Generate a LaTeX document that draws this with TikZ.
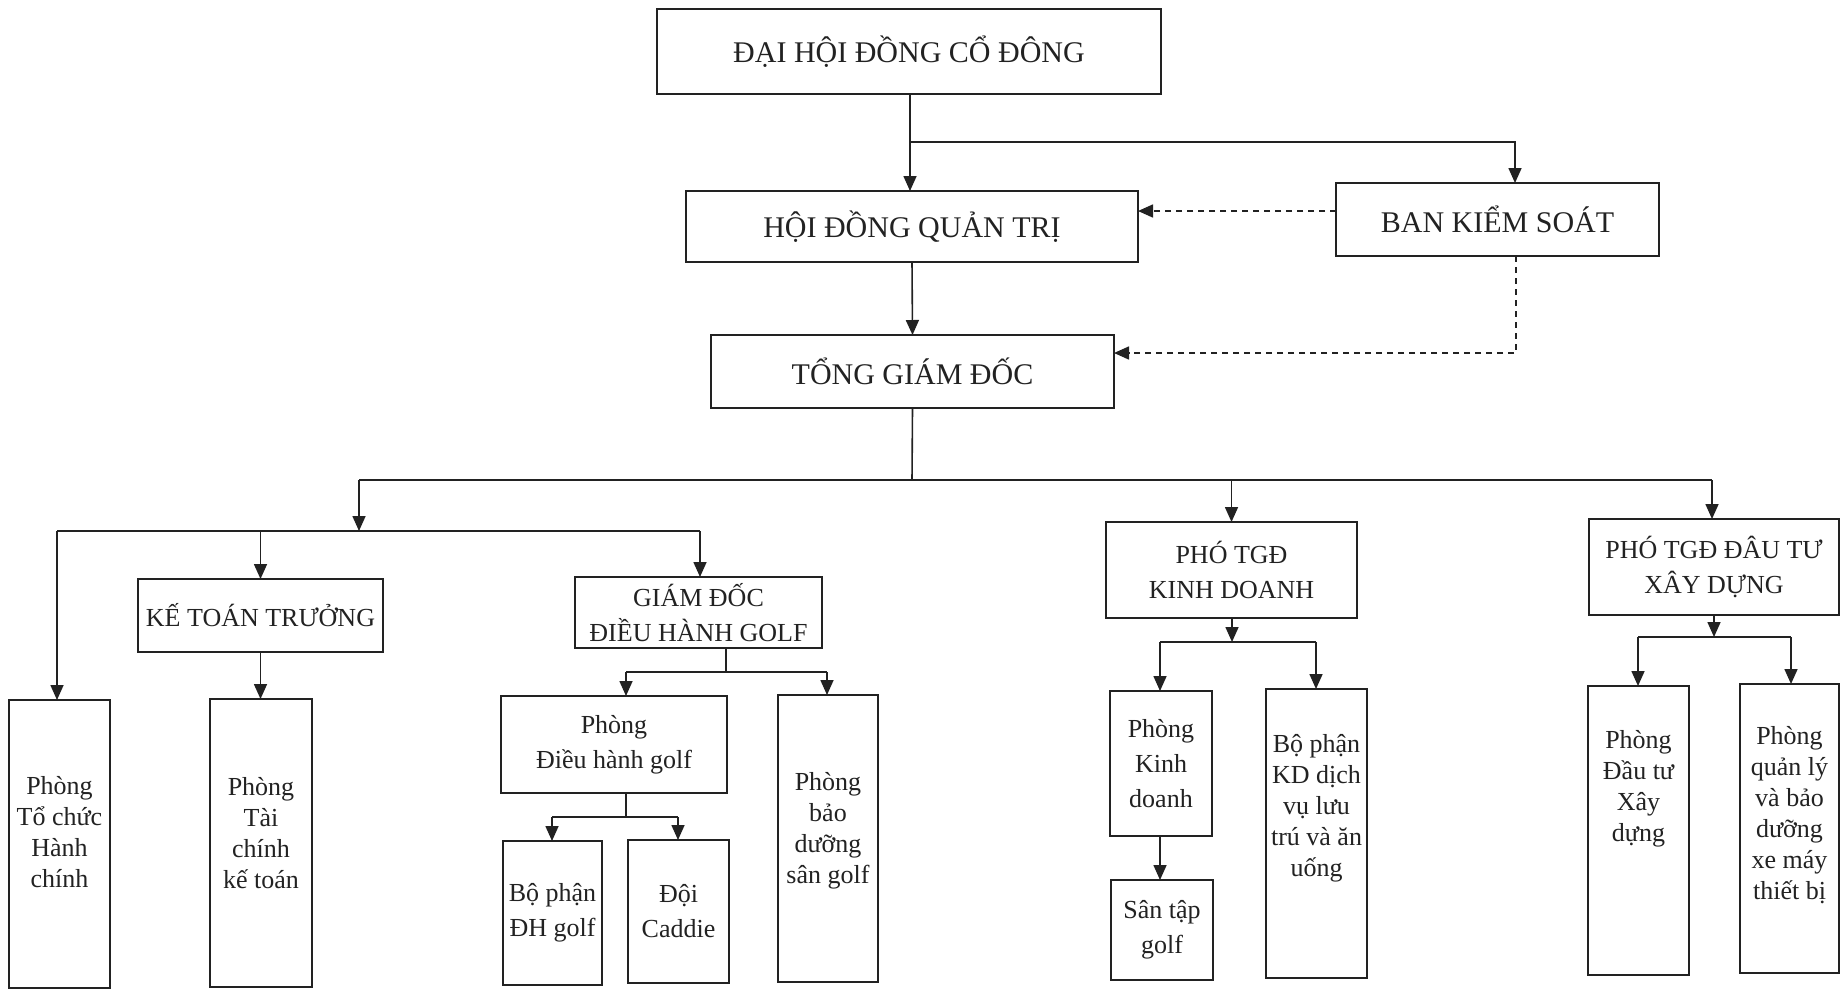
\documentclass[tikz,border=0pt]{standalone}
\usepackage{fontspec}
\setmainfont{Liberation Serif}
\usetikzlibrary{arrows.meta}
\definecolor{ink}{HTML}{222222}
\begin{document}
\begin{tikzpicture}[x=1pt,y=-1pt,
  every node/.style={text=ink},
  box/.style={draw=ink, line width=1.8pt, inner sep=0pt, outer sep=0pt, align=center},
  big/.style={font=\fontsize{30}{36}\selectfont},
  mid/.style={font=\fontsize{26}{35}\selectfont},
  small/.style={font=\fontsize{26}{31}\selectfont},
  txt/.style={align=center, inner sep=0pt},
  ln/.style={draw=ink, line width=1.6pt},
  arr/.style={ln, -{Triangle[length=15pt,width=13pt]}},
  darr/.style={draw=ink, line width=1.6pt, dash pattern=on 6pt off 5pt, -{Triangle[length=15pt,width=13pt]}},
]
\fill[white] (0,0) rectangle (1847,989);
\useasboundingbox (0,0) rectangle (1847,989);

% top levels
\node[box,big,minimum width=504pt,minimum height=85pt] (dhdcd) at (909,51.5) {ĐẠI HỘI ĐỒNG CỔ ĐÔNG};
\node[box,big,minimum width=452pt,minimum height=71pt] (hdqt) at (912,226.5) {HỘI ĐỒNG QUẢN TRỊ};
\node[box,big,minimum width=323pt,minimum height=73pt] (bks) at (1497.5,219.5) {BAN KIỂM SOÁT};
\node[box,big,minimum width=403pt,minimum height=73pt] (tgd) at (912.5,371.5) {TỔNG GIÁM ĐỐC};

% second level
\node[box,mid,minimum width=245pt,minimum height=73pt] (ktt) at (260.5,615.5) {KẾ TOÁN TRƯỞNG};
\node[box,mid,minimum width=247pt,minimum height=71pt] (gdg) at (698.5,612.5) {GIÁM ĐỐC\\ĐIỀU HÀNH GOLF};
\node[box,mid,minimum width=251pt,minimum height=96pt] (ptkd) at (1231.5,570) {PHÓ TGĐ\\KINH DOANH};
\node[box,mid,minimum width=250pt,minimum height=96pt] (ptxd) at (1714,567) {PHÓ TGĐ ĐÂU TƯ\\XÂY DỰNG};

% departments
\node[box,minimum width=101pt,minimum height=288pt] (ptc) at (59.5,844) {};
\node[txt,small] (ptct) at (59.5,832) {Phòng\\Tổ chức\\Hành\\chính};
\node[box,minimum width=102pt,minimum height=288pt] (ptckt) at (261,843) {};
\node[txt,small] (ptcktt) at (261,833) {Phòng\\Tài\\chính\\kế toán};
\node[box,mid,minimum width=226pt,minimum height=97pt] (pdhg) at (614,744.5) {Phòng\\Điều hành golf};
\node[box,mid,minimum width=99pt,minimum height=144pt] (bpdh) at (552.5,913) {Bộ phận\\ĐH golf};
\node[box,mid,minimum width=101pt,minimum height=143pt] (caddie) at (678.5,911.5) {Đội\\Caddie};
\node[box,minimum width=100pt,minimum height=287pt] (pbd) at (828,838.5) {};
\node[txt,small] (pbdt) at (828,831) {Phòng\\bảo\\dưỡng\\sân golf};
\node[box,mid,minimum width=102pt,minimum height=145pt] (pkd) at (1161,763.5) {Phòng\\Kinh\\doanh};
\node[box,mid,minimum width=102pt,minimum height=100pt] (santap) at (1162,930) {Sân tập\\golf};
\node[box,minimum width=101pt,minimum height=289pt] (bpkd) at (1316.5,833.5) {};
\node[txt,small] (bpkdt) at (1316.5,808) {Bộ phận\\KD dịch\\vụ lưu\\trú và ăn\\uống};
\node[box,minimum width=101pt,minimum height=289pt] (pdt) at (1638.5,830.5) {};
\node[txt,small] (pdtt) at (1638.5,789) {Phòng\\Đầu tư\\Xây\\dựng};
\node[box,minimum width=99pt,minimum height=289pt] (pql) at (1789.5,828.5) {};
\node[txt,small] (pqlt) at (1789.5,815) {Phòng\\quản lý\\và bảo\\dưỡng\\xe máy\\thiết bị};

% helper coordinates
\coordinate (j1) at (910,142);
\coordinate (bkin) at (1515,142);
\coordinate (dq) at (1400,211);
\coordinate (dd) at (1516,353);
\coordinate (bus) at (912,480);
\coordinate (busL) at (359,480);
\coordinate (busR) at (1712,480);
\coordinate (sbL) at (57,531);
\coordinate (sbR) at (700,531);
\coordinate (g1) at (726,672);
\coordinate (g1L) at (626,672);
\coordinate (g1R) at (827,672);
\coordinate (g2) at (626,817);
\coordinate (g2L) at (552,817);
\coordinate (g2R) at (678,817);
\coordinate (k1) at (1232,642);
\coordinate (k1L) at (1160,642);
\coordinate (k1R) at (1316,642);
\coordinate (x1) at (1714,637);
\coordinate (x1L) at (1638,637);
\coordinate (x1R) at (1791,637);

% connectors top
\draw[arr] (j1 |- dhdcd.south) -- (j1 |- hdqt.north);
\draw[arr] (j1) -- (bkin) -- (bkin |- bks.north);
\draw[arr] (hdqt.south) -- (tgd.north);
\draw[darr] (bks.west |- dq) -- (hdqt.east |- dq);
\draw[darr] (dd |- bks.south) -- (dd) -- (tgd.east |- dd);

% main bus
\draw[ln] (tgd.south) -- (bus);
\draw[ln] (busL) -- (busR);
\draw[arr] (busR) -- (busR |- ptxd.north);
\draw[arr] (ptkd.north |- bus) -- (ptkd.north);
\draw[arr] (busL) -- (busL |- sbL);

% left group
\draw[ln] (sbL) -- (sbR);
\draw[arr] (sbL) -- (sbL |- ptc.north);
\draw[arr] (ktt.north |- sbL) -- (ktt.north);
\draw[arr] (sbR) -- (sbR |- gdg.north);
\draw[arr] (ktt.south) -- (ktt.south |- ptckt.north);

% golf
\draw[ln] (g1 |- gdg.south) -- (g1);
\draw[ln] (g1L) -- (g1R);
\draw[arr] (g1L) -- (g1L |- pdhg.north);
\draw[arr] (g1R) -- (g1R |- pbd.north);
\draw[ln] (g2 |- pdhg.south) -- (g2);
\draw[ln] (g2L) -- (g2R);
\draw[arr] (g2L) -- (g2L |- bpdh.north);
\draw[arr] (g2R) -- (g2R |- caddie.north);

% kinh doanh
\draw[arr] (k1 |- ptkd.south) -- (k1);
\draw[ln] (k1L) -- (k1R);
\draw[arr] (k1L) -- (k1L |- pkd.north);
\draw[arr] (k1R) -- (k1R |- bpkd.north);
\draw[arr] (k1L |- pkd.south) -- (k1L |- santap.north);

% xay dung
\draw[arr] (x1 |- ptxd.south) -- (x1);
\draw[ln] (x1L) -- (x1R);
\draw[arr] (x1L) -- (x1L |- pdt.north);
\draw[arr] (x1R) -- (x1R |- pql.north);
\end{tikzpicture}
\end{document}
